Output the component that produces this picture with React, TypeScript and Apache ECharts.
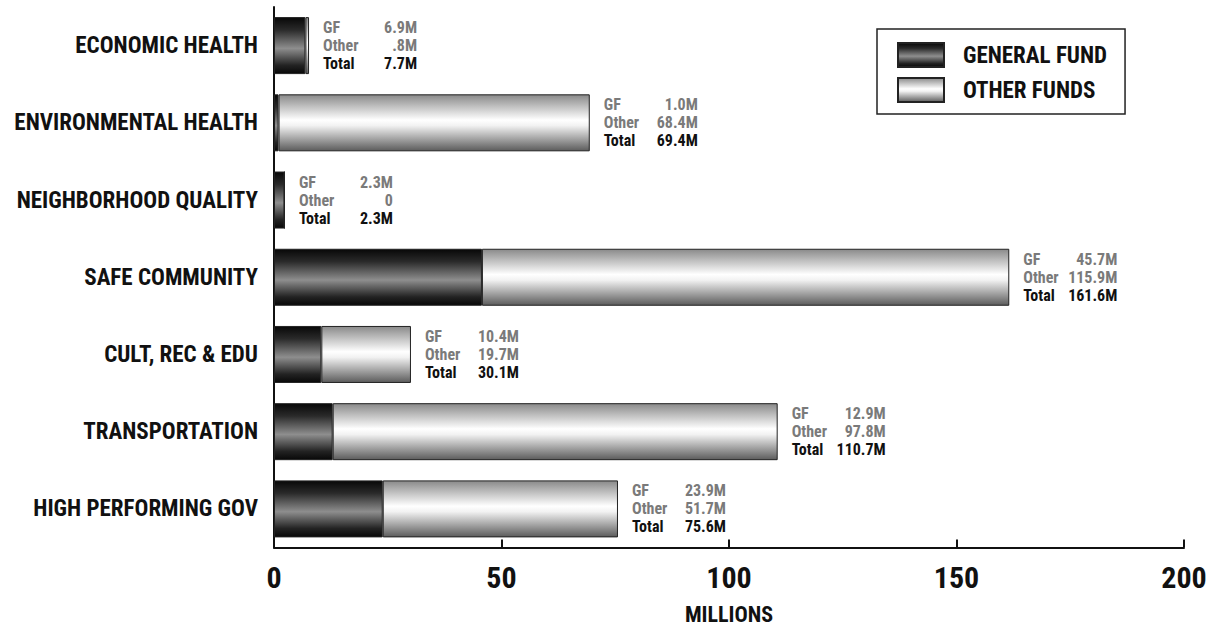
import React, { useEffect, useRef } from "react";
import * as echarts from "echarts";

// Budget by outcome area, in millions of dollars
const categories = [
  "ECONOMIC HEALTH",
  "ENVIRONMENTAL HEALTH",
  "NEIGHBORHOOD QUALITY",
  "SAFE COMMUNITY",
  "CULT, REC & EDU",
  "TRANSPORTATION",
  "HIGH PERFORMING GOV",
];
const generalFund = [6.9, 1.0, 2.3, 45.7, 10.4, 12.9, 23.9];
const otherFunds = [0.8, 68.4, 0, 115.9, 19.7, 97.8, 51.7];
const xTicks = [0, 50, 100, 150, 200];

const FONT = "'Roboto Condensed', 'Liberation Sans Narrow', 'DejaVu Sans Condensed', sans-serif";

const fmt = (v: number) => (v === 0 ? "0" : v.toFixed(1).replace(/^0\./, ".") + "M");

const gfGradient = new echarts.graphic.LinearGradient(0, 0, 0, 1, [
  { offset: 0, color: "#080808" },
  { offset: 0.22, color: "#2a2a2a" },
  { offset: 0.55, color: "#8e8e8e" },
  { offset: 0.85, color: "#232323" },
  { offset: 1, color: "#080808" },
]);
const otherGradient = new echarts.graphic.LinearGradient(0, 0, 0, 1, [
  { offset: 0, color: "#8a8a8a" },
  { offset: 0.45, color: "#ffffff" },
  { offset: 0.55, color: "#f2f2f2" },
  { offset: 1, color: "#5c5c5c" },
]);

export default function App() {
  const ref = useRef<HTMLDivElement>(null);

  useEffect(() => {
    if (!ref.current) return;
    const chart = echarts.init(ref.current, undefined, { renderer: "svg" });

    const labelFormatter = (p: any) => {
      const i = p.dataIndex;
      const gf = generalFund[i];
      const ot = otherFunds[i];
      const total = Math.round((gf + ot) * 10) / 10;
      return (
        `{n|GF}{v|${fmt(gf)}}\n` +
        `{n|Other}{v|${fmt(ot)}}\n` +
        `{tn|Total}{tv|${fmt(total)}}`
      );
    };

    const txt = { fontFamily: FONT, fontSize: 16, fontWeight: "bold", lineHeight: 18 };

    chart.setOption({
      animation: false,
      textStyle: { fontFamily: FONT },
      grid: {
        left: 274,
        right: 28,
        top: 7,
        bottom: 83.5,
        containLabel: false,
        outerBoundsMode: "none",
      },
      legend: {
        orient: "vertical",
        left: 877,
        top: 29,
        padding: [13, 18, 11, 20],
        borderColor: "#222",
        borderWidth: 1.5,
        itemWidth: 46,
        itemHeight: 24,
        itemGap: 9,
        icon: "rect",
        textStyle: {
          fontFamily: FONT,
          fontSize: 23,
          fontWeight: "bold",
          color: "#111",
          padding: [0, 0, 0, 14],
        },
        data: ["GENERAL FUND", "OTHER FUNDS"],
      },
      xAxis: {
        type: "value",
        min: xTicks[0],
        max: xTicks[xTicks.length - 1],
        interval: 50,
        name: "MILLIONS",
        nameLocation: "middle",
        nameGap: 56,
        nameTextStyle: { fontFamily: FONT, fontSize: 22, fontWeight: "bold", color: "#111" },
        axisLine: { show: true, lineStyle: { color: "#111", width: 2 } },
        axisTick: { show: true, inside: true, length: 8, lineStyle: { color: "#111", width: 2 } },
        axisLabel: { fontFamily: FONT, fontSize: 30, fontWeight: "bold", color: "#111", margin: 15 },
        splitLine: { show: false },
      },
      yAxis: {
        type: "category",
        inverse: true,
        data: categories,
        axisLine: { show: true, lineStyle: { color: "#111", width: 2 } },
        axisTick: { show: false },
        axisLabel: { fontFamily: FONT, fontSize: 23, fontWeight: "bold", color: "#111", margin: 16 },
      },
      series: [
        {
          name: "GENERAL FUND",
          type: "bar",
          stack: "total",
          barWidth: 57,
          data: generalFund,
          itemStyle: { color: gfGradient, borderColor: "#222", borderWidth: 1 },
        },
        {
          name: "OTHER FUNDS",
          type: "bar",
          stack: "total",
          barWidth: 57,
          data: otherFunds,
          itemStyle: { color: otherGradient, borderColor: "#222", borderWidth: 1 },
          label: {
            show: true,
            position: "right",
            distance: 14,
            formatter: labelFormatter,
            ...txt,
            rich: {
              n: { ...txt, width: 42, color: "#7a7a7a" },
              v: { ...txt, width: 52, align: "right", color: "#7a7a7a" },
              tn: { ...txt, width: 42, color: "#111" },
              tv: { ...txt, width: 52, align: "right", color: "#111" },
            },
          },
        },
      ],
    });

    return () => chart.dispose();
  }, []);

  return (
    <div
      ref={ref}
      style={{ position: "absolute", left: 0, top: 0, width: 1212, height: 631 }}
    />
  );
}
